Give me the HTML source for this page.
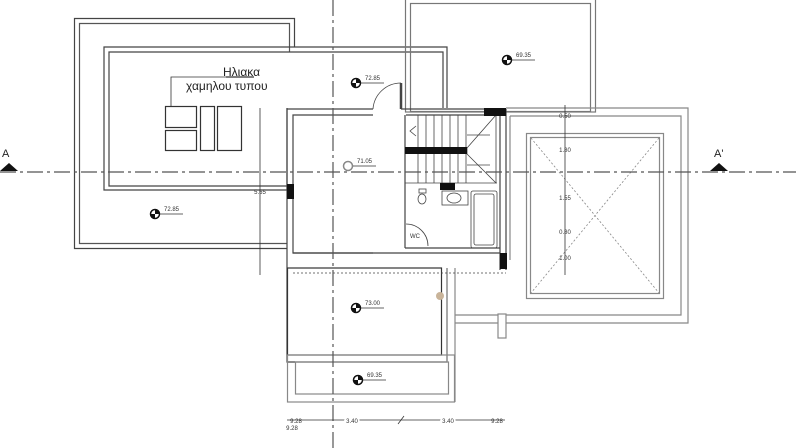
<!DOCTYPE html>
<html><head><meta charset="utf-8"><style>html,body{margin:0;padding:0;background:#fff}svg{display:block}</style></head>
<body>
<svg width="796" height="448" viewBox="0 0 796 448" xmlns="http://www.w3.org/2000/svg" font-family="Liberation Sans, sans-serif">
<g fill="none" stroke="#444" stroke-width="1.2">
<!-- left big roof -->
<polyline points="287,248.5 74.5,248.5 74.5,18.5 294.5,18.5 294.5,47"/>
<polyline points="287,243.5 79.5,243.5 79.5,23.5 289.5,23.5 289.5,52" stroke="#555"/>
<!-- upper slab -->
<polyline points="287,108 287,190 104,190 104,47 447,47 447,108"/>
<polyline points="287,186 109,186 109,52 443,52 443,108"/>
<!-- top rect -->
<rect x="405.5" y="-2" width="190" height="114" stroke="#777"/>
<rect x="410.5" y="3.5" width="180" height="108" stroke="#777"/>
<!-- right block -->
<polyline points="506,108 688,108 688,323 455,323" stroke="#888"/>
<polyline points="510,116 681,116 681,315 455,315" stroke="#888"/>
<line x1="510" y1="116" x2="510" y2="260" stroke="#888"/>
<rect x="526.5" y="133.5" width="137" height="165" stroke="#888"/>
<rect x="530.5" y="137.5" width="129" height="156" stroke="#888"/>
<g stroke="#888" stroke-dasharray="2,2" stroke-width="0.8"><line x1="531" y1="138" x2="659" y2="293"/><line x1="659" y1="138" x2="531" y2="293"/></g>
<rect x="498" y="314" width="8" height="24" fill="#fff" stroke="#888"/>
<!-- building walls -->
<polyline points="373,109 287,109 287,362 447,362 447,268"/>
<polyline points="373,115 293,115 293,253 373,253"/>
<line x1="401" y1="109" x2="506" y2="109"/>
<line x1="406" y1="115" x2="500" y2="115"/>
<line x1="506" y1="109" x2="506" y2="270"/>
<line x1="500" y1="115" x2="500" y2="270"/>
<line x1="405" y1="115" x2="405" y2="248"/>
<line x1="293" y1="253" x2="402" y2="253"/>
<line x1="405" y1="248" x2="500" y2="248"/>
<line x1="402" y1="253" x2="500" y2="253"/>
<!-- terrace -->
<rect x="287.5" y="268" width="154" height="87" stroke="#333"/>
<rect x="287.5" y="355" width="167" height="47" stroke="#888"/>
<rect x="295.5" y="362" width="153" height="32" stroke="#888"/>
<line x1="455" y1="268" x2="455" y2="402" stroke="#888"/>
<line x1="447" y1="268" x2="447" y2="362" stroke="#888"/>
<line x1="293" y1="273" x2="506" y2="273" stroke-dasharray="2,2" stroke-width="0.8"/>
<!-- door -->
<path d="M373 109 A28 28 0 0 1 401 83" stroke-width="0.8"/>
<line x1="401" y1="83" x2="401" y2="109" stroke-width="2.5"/>
<!-- stairs -->
<g stroke-width="0.8">
<line x1="418" y1="115" x2="418" y2="183"/><line x1="426" y1="115" x2="426" y2="183"/><line x1="434" y1="115" x2="434" y2="183"/><line x1="442" y1="115" x2="442" y2="183"/><line x1="450" y1="115" x2="450" y2="183"/><line x1="458" y1="115" x2="458" y2="183"/><line x1="466" y1="115" x2="466" y2="183"/>
<line x1="405" y1="183" x2="497" y2="183"/>
<polyline points="496,115 467,148 467,154 496,183"/>
<line x1="496" y1="115" x2="496" y2="183"/>
<line x1="467" y1="135" x2="490" y2="135"/><line x1="467" y1="165" x2="490" y2="165"/>
<polyline points="416,126 410,131 416,136"/>
<!-- bathroom -->
<rect x="471" y="191" width="26" height="57" rx="2"/>
<rect x="474" y="194" width="20" height="51" rx="2"/>
<ellipse cx="454" cy="198" rx="7" ry="5"/>
<rect x="442" y="191" width="26" height="14"/>
<ellipse cx="422" cy="199" rx="4" ry="5"/>
<rect x="419" y="189" width="7" height="4"/>
<path d="M406 224 A22 22 0 0 1 428 246"/>
</g>
</g>
<!-- black fills -->
<g fill="#111">
<rect x="405" y="147" width="62" height="7"/>
<rect x="484" y="108" width="22" height="8"/>
<rect x="440" y="183" width="15" height="7"/>
<rect x="287" y="184" width="7" height="15"/>
<rect x="500" y="253" width="7" height="16"/>
</g>
<!-- solar panels -->
<g fill="none" stroke="#333" stroke-width="1.2">
<rect x="165.5" y="106.5" width="31" height="21"/><rect x="165.5" y="130.5" width="31" height="20"/>
<rect x="200.5" y="106.5" width="14" height="44"/><rect x="217.5" y="106.5" width="24" height="44"/>
<polyline points="171,106 171,77 254,77" stroke-width="0.8"/>
<line x1="226" y1="77" x2="254" y2="77"/>
</g>
<text x="223" y="76" font-size="12" fill="#222">Ηλιακα</text>
<text x="186" y="90" font-size="12" fill="#222">χαμηλου τυπου</text>
<!-- axes -->
<g stroke="#555" stroke-width="1.2" stroke-dasharray="16,4,3,4">
<line x1="0" y1="172" x2="796" y2="172"/>
<line x1="333" y1="0" x2="333" y2="448"/>
</g>
<polygon points="0,171 9,163 18,171" fill="#111"/>
<polygon points="710,171 719,163 728,171" fill="#111"/>
<text x="2" y="157" font-size="11" fill="#222">A</text>
<text x="714" y="157" font-size="11" fill="#222">A'</text>
<!-- dims -->
<g stroke="#333" stroke-width="0.8" fill="none">
<line x1="260" y1="108" x2="260" y2="275"/>
<line x1="565" y1="105" x2="565" y2="275"/>
<line x1="287" y1="420" x2="505" y2="420"/>
<line x1="398" y1="424" x2="404" y2="416"/>
</g>
<g font-size="6" fill="#333" text-anchor="middle">
<text x="260" y="194">5.65</text>
<text x="565" y="118">0.50</text><text x="565" y="152">1.80</text><text x="565" y="200">1.55</text><text x="565" y="234">0.80</text><text x="565" y="260">1.00</text>
<text x="352" y="423" fill="#fff" stroke="#fff" stroke-width="4">3.40</text><text x="352" y="423">3.40</text>
<text x="448" y="423" fill="#fff" stroke="#fff" stroke-width="4">3.40</text><text x="448" y="423">3.40</text>
<text x="296" y="423">9.28</text><text x="292" y="430">9.28</text><text x="497" y="423">9.28</text>
</g>
<!-- level markers -->
<g font-size="6" fill="#333">
<g transform="translate(356,83)"><circle r="4.5" fill="#fff" stroke="#111" stroke-width="1.5"/><path d="M0-4.5A4.5 4.5 0 0 1 4.5 0H0Z M0 4.5A4.5 4.5 0 0 1 -4.5 0H0Z" fill="#111"/><line x1="5" y1="0" x2="28" y2="0" stroke="#333" stroke-width="0.8"/><text x="9" y="-3">72.85</text></g>
<g transform="translate(155,214)"><circle r="4.5" fill="#fff" stroke="#111" stroke-width="1.5"/><path d="M0-4.5A4.5 4.5 0 0 1 4.5 0H0Z M0 4.5A4.5 4.5 0 0 1 -4.5 0H0Z" fill="#111"/><line x1="5" y1="0" x2="28" y2="0" stroke="#333" stroke-width="0.8"/><text x="9" y="-3">72.85</text></g>
<g transform="translate(348,166)"><circle r="4.5" fill="#fff" stroke="#888" stroke-width="1.5"/><line x1="5" y1="0" x2="28" y2="0" stroke="#333" stroke-width="0.8"/><text x="9" y="-3">71.05</text></g>
<g transform="translate(507,60)"><circle r="4.5" fill="#fff" stroke="#111" stroke-width="1.5"/><path d="M0-4.5A4.5 4.5 0 0 1 4.5 0H0Z M0 4.5A4.5 4.5 0 0 1 -4.5 0H0Z" fill="#111"/><line x1="5" y1="0" x2="28" y2="0" stroke="#333" stroke-width="0.8"/><text x="9" y="-3">69.35</text></g>
<g transform="translate(356,308)"><circle r="4.5" fill="#fff" stroke="#111" stroke-width="1.5"/><path d="M0-4.5A4.5 4.5 0 0 1 4.5 0H0Z M0 4.5A4.5 4.5 0 0 1 -4.5 0H0Z" fill="#111"/><line x1="5" y1="0" x2="28" y2="0" stroke="#333" stroke-width="0.8"/><text x="9" y="-3">73.00</text></g>
<g transform="translate(358,380)"><circle r="4.5" fill="#fff" stroke="#111" stroke-width="1.5"/><path d="M0-4.5A4.5 4.5 0 0 1 4.5 0H0Z M0 4.5A4.5 4.5 0 0 1 -4.5 0H0Z" fill="#111"/><line x1="5" y1="0" x2="28" y2="0" stroke="#333" stroke-width="0.8"/><text x="9" y="-3">69.35</text></g>
<text x="410" y="238" font-size="6">WC</text>
</g>
<circle cx="440" cy="296" r="4" fill="#c9b49a"/>
</svg>
</body></html>
